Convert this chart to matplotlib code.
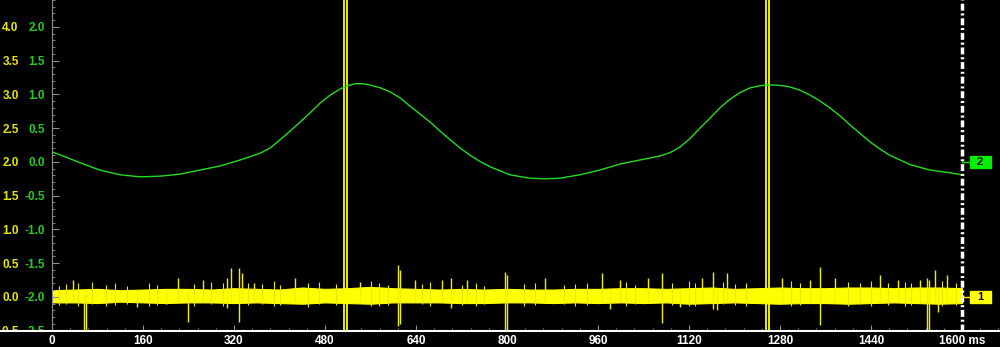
import numpy as np
import matplotlib
matplotlib.use('Agg')
import matplotlib.pyplot as plt
from matplotlib.lines import Line2D
from matplotlib.patches import Rectangle
from matplotlib.ticker import MultipleLocator

plt.rcParams['font.family'] = ['Liberation Sans', 'DejaVu Sans']

# Канал 2 (зелёный), мс / В
green_t = [0, 25, 49, 84, 120, 155, 190, 225, 260, 295, 331, 366, 384, 401, 419,
           436, 454, 471, 489, 506, 520, 533, 546, 559, 577, 594, 612, 629, 647,
           665, 682, 700, 717, 735, 752, 770, 805, 840, 867, 893, 928, 963, 999,
           1034, 1069, 1087, 1104, 1122, 1139, 1157, 1174, 1192, 1210, 1228, 1245,
           1258, 1271, 1285, 1298, 1316, 1333, 1351, 1368, 1386, 1403, 1421, 1438,
           1456, 1473, 1509, 1544, 1579, 1600]
green_v = [0.15, 0.07, -0.01, -0.12, -0.19, -0.22, -0.21, -0.18, -0.12, -0.06,
           0.03, 0.13, 0.21, 0.33, 0.46, 0.59, 0.73, 0.87, 0.99, 1.08, 1.13, 1.16,
           1.16, 1.14, 1.10, 1.04, 0.95, 0.83, 0.71, 0.59, 0.46, 0.33, 0.21, 0.10,
           0.01, -0.07, -0.19, -0.24, -0.25, -0.24, -0.19, -0.12, -0.03, 0.03, 0.09,
           0.14, 0.22, 0.35, 0.50, 0.65, 0.80, 0.93, 1.03, 1.10, 1.13, 1.14, 1.14,
           1.13, 1.11, 1.06, 0.99, 0.90, 0.80, 0.68, 0.55, 0.42, 0.30, 0.19, 0.10,
           -0.04, -0.12, -0.16, -0.19]

# Канал 1 (жёлтый): огибающая шума, мс / В
band_t = [0, 40, 80, 120, 160, 200, 240, 280, 320, 360, 400, 440, 480, 520, 560,
          600, 640, 680, 720, 760, 800, 840, 880, 920, 960, 1000, 1040, 1080, 1120,
          1160, 1200, 1240, 1280, 1320, 1360, 1400, 1440, 1480, 1520, 1560, 1600]
band_hi = [0.10, 0.11, 0.12, 0.10, 0.11, 0.12, 0.12, 0.11, 0.13, 0.12, 0.11, 0.14,
           0.12, 0.13, 0.15, 0.13, 0.12, 0.11, 0.12, 0.11, 0.12, 0.11, 0.11, 0.12,
           0.12, 0.13, 0.13, 0.12, 0.13, 0.14, 0.12, 0.13, 0.14, 0.13, 0.13, 0.14,
           0.14, 0.13, 0.14, 0.14, 0.13]
band_lo = [-0.08, -0.08, -0.09, -0.07, -0.08, -0.09, -0.08, -0.08, -0.09, -0.08,
           -0.09, -0.10, -0.08, -0.09, -0.10, -0.08, -0.08, -0.08, -0.09, -0.09,
           -0.08, -0.08, -0.09, -0.08, -0.09, -0.08, -0.09, -0.08, -0.10, -0.09,
           -0.08, -0.09, -0.10, -0.09, -0.09, -0.10, -0.09, -0.08, -0.09, -0.10, -0.09]

# мелкие волоски по краям полосы: время, верх, низ
hair_t = [12, 24, 45, 70, 95, 110, 132, 170, 185, 250, 280, 300, 345, 370, 390,
          400, 450, 470, 500, 560, 575, 590, 650, 665, 720, 745, 760, 830, 850,
          900, 920, 940, 1010, 1025, 1090, 1120, 1130, 1180, 1200, 1220, 1300,
          1315, 1400, 1420, 1440, 1470, 1500, 1510, 1565, 1590]
hair_hi = [0.17, 0.19, 0.20, 0.22, 0.18, 0.21, 0.17, 0.20, 0.18, 0.19, 0.22, 0.20,
           0.21, 0.19, 0.23, 0.18, 0.20, 0.22, 0.19, 0.23, 0.20, 0.18, 0.19, 0.22,
           0.18, 0.20, 0.17, 0.19, 0.21, 0.18, 0.19, 0.20, 0.22, 0.18, 0.20, 0.23,
           0.20, 0.22, 0.19, 0.21, 0.23, 0.20, 0.22, 0.21, 0.24, 0.20, 0.22, 0.21,
           0.23, 0.21]
hair_lo = [-0.12, -0.10, -0.13, -0.11, -0.14, -0.12, -0.11, -0.13, -0.12, -0.14,
           -0.11, -0.13, -0.12, -0.11, -0.14, -0.12, -0.15, -0.11, -0.12, -0.13,
           -0.14, -0.12, -0.11, -0.13, -0.12, -0.14, -0.11, -0.13, -0.12, -0.11,
           -0.14, -0.12, -0.13, -0.11, -0.12, -0.14, -0.13, -0.11, -0.12, -0.14,
           -0.13, -0.12, -0.14, -0.11, -0.13, -0.12, -0.14, -0.12, -0.13, -0.12]

# выбросы канала 1: время, верх, низ
spike_t = [37, 56, 60, 149, 200, 222, 239, 265, 308, 315, 329, 334, 355, 427, 542,
           608, 612, 638, 686, 702, 730, 797, 800, 867, 967, 981, 999, 1048, 1073,
           1104, 1143, 1162, 1169, 1187, 1283, 1333, 1350, 1377, 1456, 1487, 1526,
           1538, 1542, 1553, 1558, 1574]
spike_hi = [0.25, 0.05, 0.05, 0.10, 0.10, 0.28, 0.10, 0.25, 0.28, 0.43, 0.43, 0.36,
            0.21, 0.28, 0.22, 0.47, 0.40, 0.25, 0.25, 0.28, 0.25, 0.37, 0.33, 0.28,
            0.36, 0.10, 0.25, 0.28, 0.36, 0.10, 0.28, 0.37, 0.10, 0.36, 0.28, 0.25,
            0.44, 0.28, 0.33, 0.25, 0.25, 0.28, 0.25, 0.40, 0.10, 0.33]
spike_lo = [-0.08, -0.50, -0.50, -0.15, -0.10, -0.08, -0.37, -0.08, -0.16, -0.08,
            -0.37, -0.08, -0.08, -0.08, -0.08, -0.43, -0.40, -0.08, -0.08, -0.16,
            -0.08, -0.50, -0.50, -0.08, -0.08, -0.18, -0.08, -0.08, -0.39, -0.15,
            -0.08, -0.18, -0.19, -0.08, -0.08, -0.08, -0.41, -0.08, -0.08, -0.08,
            -0.08, -0.50, -0.50, -0.08, -0.22, -0.08]

# маркеры на всю высоту, мс
marker_t = [514, 519, 1255, 1261]

x_ticks = [0, 160, 320, 480, 640, 800, 960, 1120, 1280, 1440, 1600]
y1_ticks = [-0.5, 0.0, 0.5, 1.0, 1.5, 2.0, 2.5, 3.0, 3.5, 4.0]
ch2_offset = 2.0

YEL = '#ffff00'
GRN = '#22dd22'

fig = plt.figure(figsize=(10, 3.47), dpi=100, facecolor='black')
ax = fig.add_axes([52 / 1000, 16 / 347, 948 / 1000, 331 / 347])
ax.set_facecolor('black')
ax.set_xlim(0, 1666.8)
ax.set_ylim(-0.504, 4.4)

# канал 1
ax.fill_between(band_t, band_lo, band_hi, color=YEL, lw=0.8, edgecolor=YEL)
ax.vlines(hair_t, hair_lo, hair_hi, color='#e8e800', lw=0.8)
ax.vlines(spike_t, spike_lo, spike_hi, color='#f0f000', lw=1.0)
for t in marker_t:
    ax.axvline(t, color=YEL, lw=1.3)

# канал 2
ax.plot(green_t, np.array(green_v) + ch2_offset, color=GRN, lw=1.0)

# правая граница
ax.axvline(1600, color='white', lw=2.5, linestyle=(0, (2, 0.8, 0.6, 0.8)))

# метки каналов
for lvl, txt, col in [(ch2_offset, '2', '#00ee00'), (0.0, '1', YEL)]:
    ax.plot([1600, 1614], [lvl, lvl], color=col, lw=1)
    ax.add_patch(Rectangle((1614, lvl - 0.085), 37, 0.17, fc=col, ec=col,
                           clip_on=False))
    ax.text(1632, lvl, txt, color='black', fontsize=8, fontweight='bold',
            ha='center', va='center')

# оси
for s in ['top', 'right']:
    ax.spines[s].set_visible(False)
ax.spines['left'].set_color('#909090')
ax.spines['bottom'].set_color('white')
ax.spines['bottom'].set_linewidth(1.5)

ax.set_xticks(x_ticks)
ax.set_xticklabels([str(x) for x in x_ticks[:-1]] + ['1600 ms'])
ax.xaxis.set_minor_locator(MultipleLocator(32))
ax.tick_params(axis='x', which='both', direction='in', colors='#909090',
               labelcolor='white', labelsize=8.5, pad=3)
ax.tick_params(axis='x', which='major', length=4)
ax.tick_params(axis='x', which='minor', length=2.5)
for lab in ax.get_xticklabels():
    lab.set_fontweight('bold')

ax.set_yticks(y1_ticks)
ax.set_yticklabels(['%.1f' % v for v in y1_ticks])
ax.yaxis.set_minor_locator(MultipleLocator(0.1))
ax.tick_params(axis='y', which='both', direction='in', colors='#909090',
               labelcolor='#e8e800', labelsize=8.5, pad=24)
ax.tick_params(axis='y', which='major', length=5)
ax.tick_params(axis='y', which='minor', length=2.5)
for lab in ax.get_yticklabels():
    lab.set_fontweight('bold')

sec = ax.secondary_yaxis('left', functions=(lambda y: y - ch2_offset,
                                            lambda y: y + ch2_offset))
sec.set_yticks([v - ch2_offset for v in y1_ticks])
sec.set_yticklabels(['%.1f' % (v - ch2_offset) for v in y1_ticks])
sec.spines['left'].set_visible(False)
sec.tick_params(axis='y', length=0, labelcolor='#22cc22', labelsize=8.5, pad=5)
for lab in sec.get_yticklabels():
    lab.set_fontweight('bold')

# обрезка нижних подписей и линия оси на всю ширину
fig.add_artist(Rectangle((0, 0), 46 / 1000, 15 / 347, transform=fig.transFigure,
                         fc='black', ec='none', zorder=5))
fig.add_artist(Line2D([0, 52 / 1000], [16 / 347, 16 / 347], transform=fig.transFigure,
                      color='white', lw=1.5, zorder=6))

fig.savefig('out.png', dpi=100, facecolor='black')
